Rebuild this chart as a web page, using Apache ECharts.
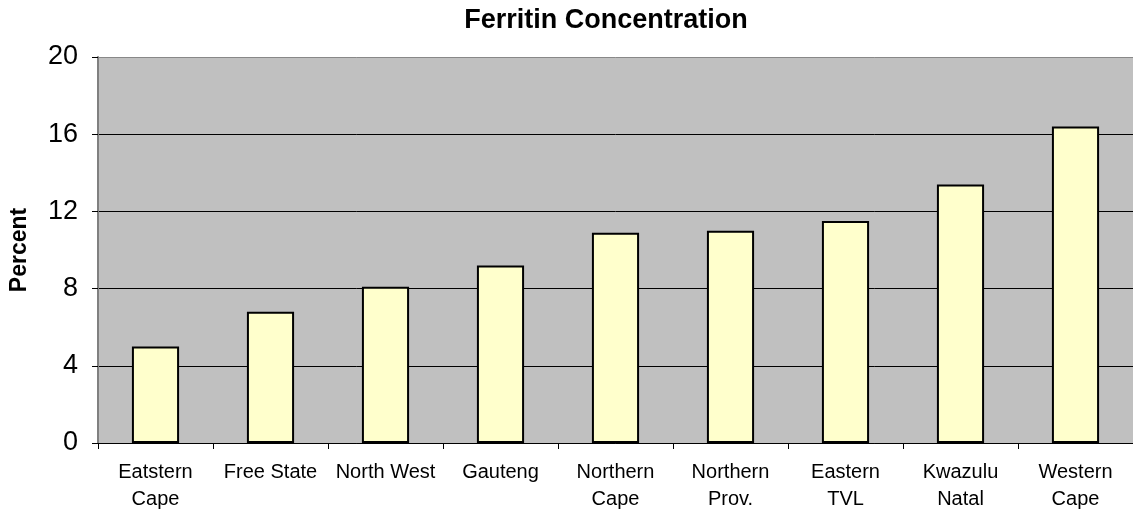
<!DOCTYPE html>
<html>
<head>
<meta charset="utf-8">
<script src="https://cdn.jsdelivr.net/npm/echarts@6/dist/echarts.min.js"></script>
<style>html,body{margin:0;padding:0;background:#fff}#c{width:1133px;height:520px}</style>
</head>
<body>
<div id="c"></div>
<script>
const categories = ["Eatstern\nCape", "Free State", "North West", "Gauteng", "Northern\nCape", "Northern\nProv.", "Eastern\nTVL", "Kwazulu\nNatal", "Western\nCape"];
const percentValues = [5.0, 6.8, 8.1, 9.2, 10.9, 11.0, 11.5, 13.4, 16.4];
const yTicks = [0, 4, 8, 12, 16, 20];

const FONT = 'Liberation Sans, Arial, sans-serif';
const chart = echarts.init(document.getElementById('c'), null, {renderer: 'canvas'});
chart.setOption({
  animation: false,
  backgroundColor: '#ffffff',
  title: {
    text: 'Ferritin Concentration',
    left: 601, top: 2, textAlign: 'center',
    textStyle: {fontFamily: FONT, fontSize: 27, fontWeight: 'bold', color: '#000'}
  },
  grid: {left: 98, top: 57, width: 1040, bottom: 77, containLabel: false,
    show: true, backgroundColor: '#c0c0c0', borderWidth: 0},
  xAxis: {
    type: 'category', data: categories,
    axisLine: {show: true, lineStyle: {color: '#000', width: 1}},
    axisTick: {show: true, alignWithLabel: false, length: 6, lineStyle: {color: '#000'}},
    axisLabel: {fontFamily: FONT, fontSize: 20, color: '#000', margin: 16, lineHeight: 27, interval: 0}
  },
  yAxis: {
    type: 'value', min: yTicks[0], max: yTicks[yTicks.length - 1], interval: 4,
    name: 'Percent', nameLocation: 'middle', nameGap: 67, nameRotate: 90,
    nameTextStyle: {fontFamily: FONT, fontSize: 23, fontWeight: 'bold', color: '#000'},
    axisLine: {show: true, lineStyle: {color: '#808080', width: 2}},
    axisTick: {show: true, length: 6, lineStyle: {color: '#000'}},
    axisLabel: {fontFamily: FONT, fontSize: 27, color: '#000', margin: 20},
    splitLine: {show: true, lineStyle: {color: ['#000', '#000', '#000', '#000', '#000', '#888'], width: 1}}
  },
  series: [{
    type: 'bar', data: percentValues, barWidth: '41%',
    itemStyle: {color: '#ffffcc', borderColor: '#000', borderWidth: 2}
  }]
});
</script>
</body>
</html>
